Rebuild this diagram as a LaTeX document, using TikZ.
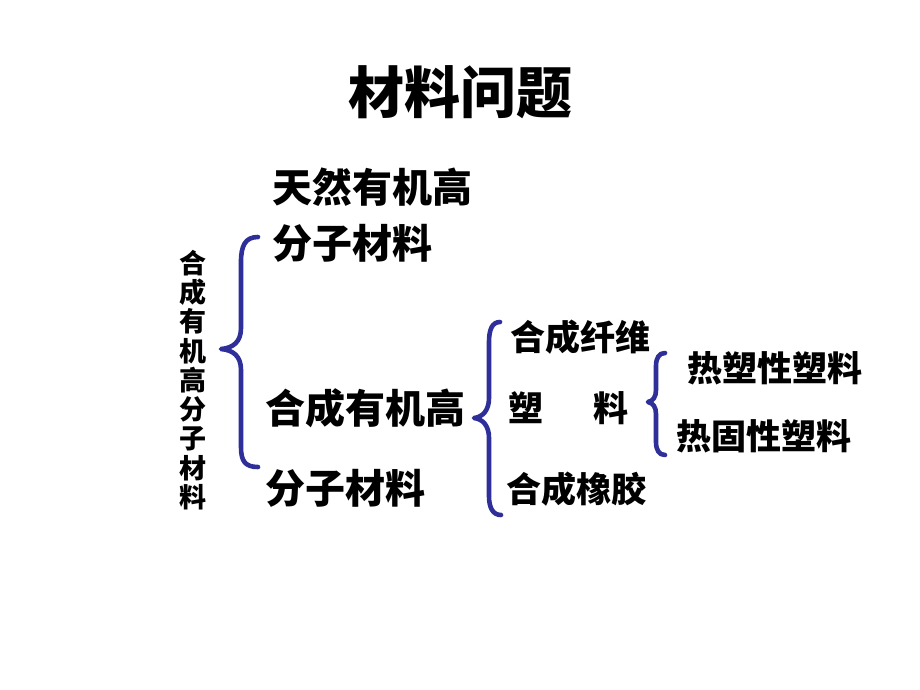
\documentclass[tikz,border=0pt]{standalone}
\usepackage{fontspec}
\setmainfont{Noto Sans CJK SC}
\definecolor{bracecol}{HTML}{2F2F9A}
\begin{document}
\begin{tikzpicture}[x=1pt,y=-1pt,
  lbl/.style={anchor=west,inner sep=0pt,font=\bfseries\fontsize{40}{44}\selectfont},
  sub/.style={anchor=west,inner sep=0pt,font=\bfseries\fontsize{35}{38}\selectfont},
  brace/.style={draw=bracecol,line width=4.6pt,line cap=round,line join=round}]
\useasboundingbox[fill=white] (0,0) rectangle (920,690);
\node[inner sep=0pt,font=\bfseries\fontsize{56}{60}\selectfont] (title) at (460,92) {材料问题};
\node[inner sep=0pt,align=center,font=\bfseries\fontsize{27}{29.3}\selectfont] (vert) at (193,380) {合\\成\\有\\机\\高\\分\\子\\材\\料};
\node[lbl] (nat1) at (272,187) {天然有机高};
\node[lbl] (nat2) at (272,243) {分子材料};
\node[lbl] (syn1) at (265,408) {合成有机高};
\node[lbl] (syn2) at (265,488) {分子材料};
\node[sub] (fib) at (510,337) {合成纤维};
\node[sub] (pla1) at (508,408) {塑};
\node[sub] (pla2) at (593,408) {料};
\node[sub] (rub) at (506,489) {合成橡胶};
\node[sub] (tp) at (687,368) {热塑性塑料};
\node[sub] (ts) at (676,436) {热固性塑料};
% brace 1
\path[brace] (258,237) .. controls (245,237) and (241,246) .. (241,262) -- (241,328)
  .. controls (241,342) and (233,348) .. (221,349)
  .. controls (233,350) and (241,356) .. (241,370) -- (241,447)
  .. controls (241,461) and (245,467) .. (258,467);
% brace 2
\path[brace] (500,322) .. controls (492,322) and (489,330) .. (489,342) -- (489,398)
  .. controls (489,410) and (483,417) .. (474,418)
  .. controls (483,419) and (489,426) .. (489,438) -- (489,496)
  .. controls (489,508) and (493,515) .. (501,515);
% brace 3
\path[brace] (665,353) .. controls (659,353) and (656,358) .. (656,366) -- (656,390)
  .. controls (656,397) and (653,401) .. (648,402)
  .. controls (653,403) and (656,407) .. (656,414) -- (656,442)
  .. controls (656,450) and (659,455) .. (665,455);
\end{tikzpicture}
\end{document}
